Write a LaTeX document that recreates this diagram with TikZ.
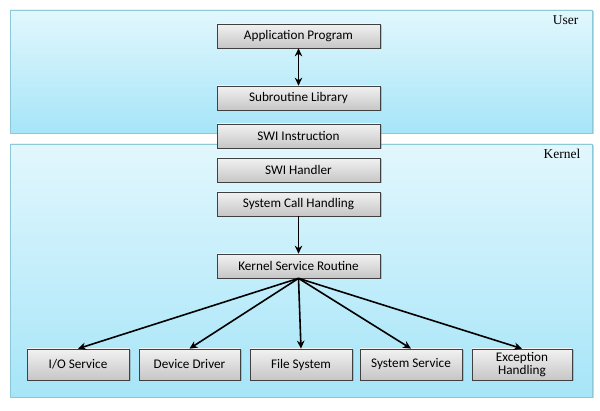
\documentclass[tikz,border=0pt]{standalone}
\usepackage{fontspec}
\setmainfont{Carlito}
\newfontfamily\labfont{Liberation Serif}
\usetikzlibrary{shadows,arrows.meta}
\definecolor{paneltop}{HTML}{E2F7FD}
\definecolor{panelbot}{HTML}{A6E5F8}
\definecolor{panelborder}{HTML}{8CC8D8}
\definecolor{boxtop}{HTML}{F2F2F2}
\definecolor{boxbot}{HTML}{C6C6C6}
\begin{document}
\begin{tikzpicture}[x=1pt,y=-1pt,
  panel/.style={draw=panelborder,line width=0.8pt,top color=paneltop,bottom color=panelbot,
    drop shadow={shadow xshift=1.5pt,shadow yshift=-1.5pt,opacity=0.35}},
  blk/.style={draw=black!75,line width=0.7pt,top color=boxtop,bottom color=boxbot,
    minimum height=24pt,inner sep=1pt,font=\fontsize{13.2}{13.5}\selectfont,align=center,
    drop shadow={shadow xshift=1.5pt,shadow yshift=-1.5pt,opacity=0.4}},
  conn/.style={line width=1.6pt,-{Stealth[length=8pt,width=7.5pt]}},
  lab/.style={font=\labfont\fontsize{13.5}{14}\selectfont,anchor=north east}]
\useasboundingbox (0,0) rectangle (600,411);
\fill[white] (0,0) rectangle (600,411);
\path[panel] (10,10) rectangle (592,133);
\path[panel] (10,144) rectangle (592,397);
\node[lab] (user) at (582,12) {User};
\node[lab] (kernel) at (584,146) {Kernel};
\node[blk,minimum width=163pt] (app) at (298.5,36) {Application Program};
\node[blk,minimum width=163pt] (sub) at (298.5,98) {Subroutine Library};
\node[blk,minimum width=163pt] (swi) at (298.5,136) {SWI Instruction};
\node[blk,minimum width=163pt] (swih) at (298.5,170) {SWI Handler};
\node[blk,minimum width=163pt] (sch) at (298.5,204) {System Call Handling};
\node[blk,minimum width=163pt] (ksr) at (298.5,266) {Kernel Service Routine};
\node[blk,minimum width=102pt,minimum height=31pt] (io) at (78,364.5) {I/O Service};
\node[blk,minimum width=101pt,minimum height=31pt] (dd) at (189.5,364.5) {Device Driver};
\node[blk,minimum width=102pt,minimum height=31pt] (fs) at (301,364.5) {File System};
\node[blk,minimum width=102pt,minimum height=31pt] (ss) at (411,364.5) {System Service};
\node[blk,minimum width=100pt,minimum height=31pt] (eh) at (522,364.5) {Exception\\Handling};
\draw[line width=1.6pt,{Stealth[length=8pt,width=7.5pt]}-{Stealth[length=8pt,width=7.5pt]}] (app) -- (sub);
\draw[conn] (sch) -- (ksr);
\draw[conn] (ksr.south) -- (io.north);
\draw[conn] (ksr.south) -- (dd.north);
\draw[conn] (ksr.south) -- (fs.north);
\draw[conn] (ksr.south) -- (ss.north);
\draw[conn] (ksr.south) -- (eh.north);
\end{tikzpicture}
\end{document}
